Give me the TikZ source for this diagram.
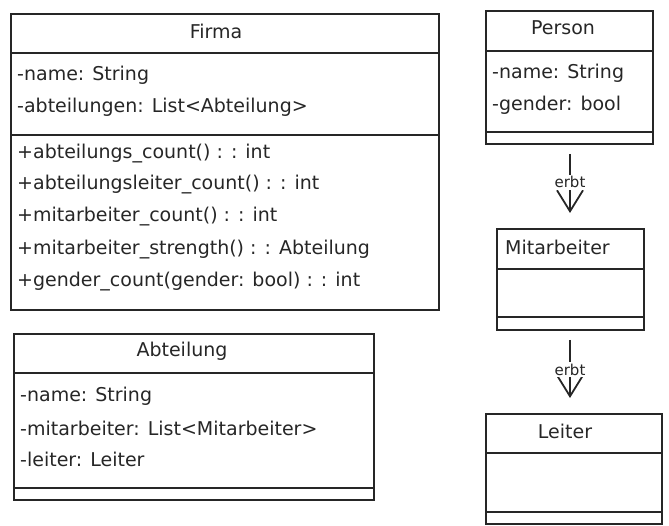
\documentclass[tikz,border=0pt]{standalone}
\usepackage{fontspec}
\setmainfont{DejaVu Sans}
\usetikzlibrary{arrows.meta}
\tikzset{
  classbox/.style={draw=black!85, line width=1.8pt, anchor=north west, inner sep=0pt},
  divider/.style={draw=black!85, line width=1.1pt},
  ctitle/.style={font=\fontsize{19}{21}\selectfont, inner sep=0pt, text=black!85},
  member/.style={font=\fontsize{19}{21}\selectfont, inner sep=0pt, anchor=west, text=black!85},
  inherit/.style={draw=black!85, line width=1.8pt, -{Straight Barb[length=21pt,width=26pt,line width=1.8pt]}, shorten <=9pt, shorten >=15pt},
  erbtlabel/.style={font=\fontsize{15}{17}\selectfont, fill=white, inner sep=1.5pt, text=black!85}
}
\begin{document}
\begin{tikzpicture}[x=1pt,y=-1pt]
\useasboundingbox (0,0) rectangle (669,526);

% Firma
\node[classbox, minimum width=428pt, minimum height=296pt] (firma) at (10,13) {};
\draw[divider] (10,53) -- (438,53);
\draw[divider] (10,135) -- (438,135);
\node[ctitle] (firmaT) at (216,31) {Firma};
\node[member] (f1) at (17,75) {-name: String};
\node[member] (f2) at (17,107) {-abteilungen: List<Abteilung>};
\node[member] (f3) at (17,154) {+abteilungs\_count() : : int};
\node[member] (f4) at (17,185) {+abteilungsleiter\_count() : : int};
\node[member] (f5) at (17,217) {+mitarbeiter\_count() : : int};
\node[member] (f6) at (17,250) {+mitarbeiter\_strength() : : Abteilung};
\node[member] (f7) at (17,282) {+gender\_count(gender: bool) : : int};

% Abteilung
\node[classbox, minimum width=360pt, minimum height=166pt] (abt) at (13,333) {};
\draw[divider] (13,373) -- (373,373);
\draw[divider] (13,488) -- (373,488);
\node[ctitle] (abtT) at (182,351) {Abteilung};
\node[member] (a1) at (20,396) {-name: String};
\node[member] (a2) at (20,428) {-mitarbeiter: List<Mitarbeiter>};
\node[member] (a3) at (20,459) {-leiter: Leiter};

% Person
\node[classbox, minimum width=167pt, minimum height=133pt] (person) at (485,10) {};
\draw[divider] (485,51) -- (652,51);
\draw[divider] (485,132) -- (652,132);
\node[ctitle] (personT) at (563,28) {Person};
\node[member] (p1) at (492,73) {-name: String};
\node[member] (p2) at (492,105) {-gender: bool};

% Mitarbeiter
\node[classbox, minimum width=147pt, minimum height=101pt] (mit) at (496,228) {};
\draw[divider] (496,269) -- (643,269);
\draw[divider] (496,317) -- (643,317);
\node[ctitle, anchor=west] (mitT) at (505,247) {Mitarbeiter};

% Leiter
\node[classbox, minimum width=176pt, minimum height=110pt] (leiter) at (485,413) {};
\draw[divider] (485,453) -- (661,453);
\draw[divider] (485,512) -- (661,512);
\node[ctitle] (leiterT) at (565,431) {Leiter};

% inheritance arrows
\draw[inherit] (person.south -| 570,0) -- node[erbtlabel, pos=0.45] (e1) {erbt} (mit.north -| 570,0);
\draw[inherit] (mit.south -| 570,0) -- node[erbtlabel, pos=0.47] (e2) {erbt} (leiter.north -| 570,0);
\end{tikzpicture}
\end{document}
